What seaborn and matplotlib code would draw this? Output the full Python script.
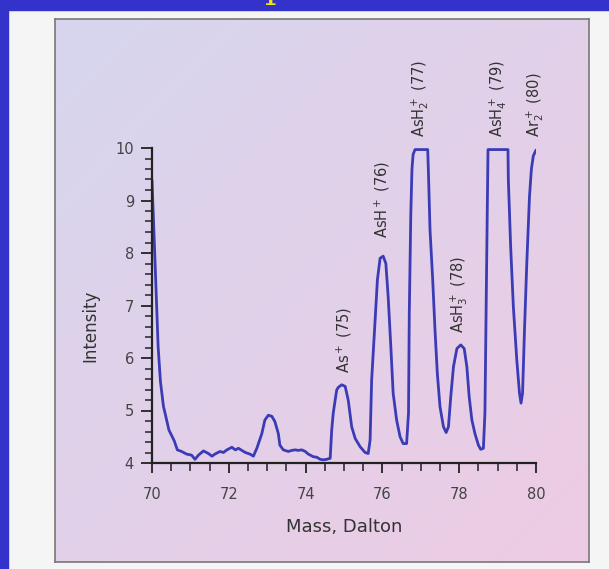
import numpy as np
import pandas as pd
import matplotlib
matplotlib.use("Agg")
import matplotlib.pyplot as plt
from matplotlib.patches import Rectangle
import seaborn as sns

# Mass spectrum trace
mass = [70.0, 70.08, 70.16, 70.22, 70.3, 70.34, 70.44, 70.58, 70.66, 70.77, 70.9,
        71.03, 71.12, 71.21, 71.34, 71.47, 71.56, 71.64, 71.77, 71.86, 71.95,
        72.08, 72.17, 72.25, 72.34, 72.43, 72.55, 72.64, 72.73, 72.86, 72.94,
        73.03, 73.12, 73.2, 73.29, 73.33, 73.42, 73.55, 73.64, 73.73, 73.81,
        73.9, 73.99, 74.07, 74.2, 74.29, 74.38, 74.46, 74.55, 74.64, 74.68,
        74.72, 74.77, 74.81, 74.85, 74.94, 75.03, 75.11, 75.2, 75.29, 75.42,
        75.55, 75.63, 75.68, 75.72, 75.81, 75.87, 75.94, 76.02, 76.09, 76.15,
        76.22, 76.28, 76.37, 76.46, 76.54, 76.63, 76.68, 76.7, 76.74, 76.77,
        76.8, 76.85, 77.18, 77.2, 77.24, 77.31, 77.37, 77.43, 77.5, 77.59,
        77.66, 77.72, 77.78, 77.85, 77.94, 78.04, 78.13, 78.2, 78.26, 78.33,
        78.41, 78.5, 78.56, 78.63, 78.67, 78.7, 78.73, 78.75, 79.27, 79.28,
        79.34, 79.41, 79.5, 79.57, 79.61, 79.65, 79.7, 79.76, 79.83, 79.88,
        79.93, 80.0]
intensity = [9.39, 7.81, 6.21, 5.55, 5.07, 4.95, 4.63, 4.42, 4.25, 4.22, 4.17,
             4.15, 4.07, 4.15, 4.23, 4.18, 4.13, 4.17, 4.22, 4.20, 4.25,
             4.30, 4.25, 4.28, 4.24, 4.20, 4.17, 4.13, 4.28, 4.56, 4.82,
             4.91, 4.89, 4.79, 4.56, 4.34, 4.25, 4.22, 4.24, 4.25, 4.24,
             4.25, 4.22, 4.17, 4.12, 4.11, 4.07, 4.06, 4.07, 4.09, 4.63,
             4.95, 5.2, 5.39, 5.44, 5.49, 5.46, 5.2, 4.69, 4.47, 4.31,
             4.2, 4.18, 4.44, 5.58, 6.72, 7.49, 7.9, 7.94, 7.8, 7.17,
             6.21, 5.33, 4.82, 4.5, 4.37, 4.37, 4.95, 6.85, 8.75, 9.6,
             9.88, 9.97, 9.97, 9.5, 8.44, 7.49, 6.53, 5.71, 5.07, 4.69,
             4.58, 4.69, 5.26, 5.83, 6.18, 6.25, 6.18, 5.83, 5.26, 4.82,
             4.56, 4.34, 4.26, 4.28, 4.95, 6.85, 8.75, 9.97, 9.97, 9.39,
             8.12, 6.98, 5.96, 5.33, 5.14, 5.33, 6.53, 7.8, 9.07, 9.6,
             9.85, 9.96]

# peak labels: text, x position, y of label bottom
peak_labels = [r"$\mathregular{As^+}$ (75)", r"$\mathregular{AsH^+}$ (76)",
               r"$\mathregular{AsH_2^+}$ (77)", r"$\mathregular{AsH_3^+}$ (78)",
               r"$\mathregular{AsH_4^+}$ (79)", r"$\mathregular{Ar_2^+}$ (80)"]
peak_x = [75.0, 76.0, 76.98, 78.0, 79.0, 79.97]
peak_y = [5.71, 8.29, 10.21, 6.48, 10.21, 10.21]

sns.set_style("ticks")
plt.rcParams['font.family'] = ['DejaVu Sans']

W, H = 609, 569
fig = plt.figure(figsize=(W / 100, H / 100), dpi=100)
fig.patch.set_facecolor("#f5f5f5")

# blue slide frame (left and top)
fig.patches.append(Rectangle((0, 0), 8 / W, 1, transform=fig.transFigure,
                             color="#3333cc", zorder=0))
fig.patches.append(Rectangle((0, 1 - 10 / H), 1, 10 / H, transform=fig.transFigure,
                             color="#3333cc", zorder=0))
fig.text(277 / W, 1 + 2 / H, "p", color="#f2e600", fontsize=26,
         family="DejaVu Serif", ha="center", va="baseline")

# gradient panel behind the chart
bg = fig.add_axes([55 / W, 1 - 562 / H, (589 - 55) / W, (562 - 19) / H])
gx, gy = np.meshgrid(np.linspace(0, 1, 200), np.linspace(0, 1, 200))
t = (gx + gy) / 2
c0 = np.array([214, 214, 238]) / 255
c1 = np.array([238, 203, 228]) / 255
grad = c0[None, None, :] * (1 - t[..., None]) + c1[None, None, :] * t[..., None]
bg.imshow(grad, aspect="auto", extent=[0, 1, 0, 1], origin="upper")
bg.set_xticks([])
bg.set_yticks([])
for s in bg.spines.values():
    s.set_color("#777777")
    s.set_linewidth(1.2)

ax = fig.add_axes([152 / W, 1 - 463 / H, (536 - 152) / W, (463 - 148) / H])
ax.patch.set_alpha(0)

df = pd.DataFrame({"Mass": mass, "Intensity": intensity})
sns.lineplot(data=df, x="Mass", y="Intensity", ax=ax, sort=False,
             estimator=None, color="#3b3bb5", linewidth=2.0)

for lab, px, py in zip(peak_labels, peak_x, peak_y):
    ax.text(px, py, lab, rotation=90, ha="center", va="bottom",
            fontsize=10.5, color="#333333")

ax.set_xlim(70, 80)
ax.set_ylim(4, 10)
ax.set_xticks(np.arange(70, 81, 2))
ax.set_xticks(np.arange(70, 80.01, 0.5), minor=True)
ax.set_yticks(np.arange(4, 11, 1))
ax.set_yticks(np.arange(4, 10.01, 0.2), minor=True)
ax.tick_params(axis="x", which="major", length=7, width=1.3, pad=10,
               labelsize=10.5, labelcolor="#444444", color="#222222")
ax.tick_params(axis="x", which="minor", length=6, width=1.1, color="#222222")
ax.tick_params(axis="y", which="major", length=8, width=1.3, pad=5,
               labelsize=10.5, labelcolor="#444444", color="#222222")
ax.tick_params(axis="y", which="minor", length=5, width=1.1, color="#222222")
sns.despine(ax=ax)
for s in ["left", "bottom"]:
    ax.spines[s].set_linewidth(1.6)
    ax.spines[s].set_color("#222222")

ax.set_xlabel("Mass, Dalton", fontsize=13, color="#333333")
ax.set_ylabel("Intensity", fontsize=12, color="#333333")
ax.xaxis.set_label_coords(0.5, -0.175)
ax.yaxis.set_label_coords(-0.138, 0.435)

fig.savefig("out.png", dpi=100, facecolor=fig.get_facecolor())
